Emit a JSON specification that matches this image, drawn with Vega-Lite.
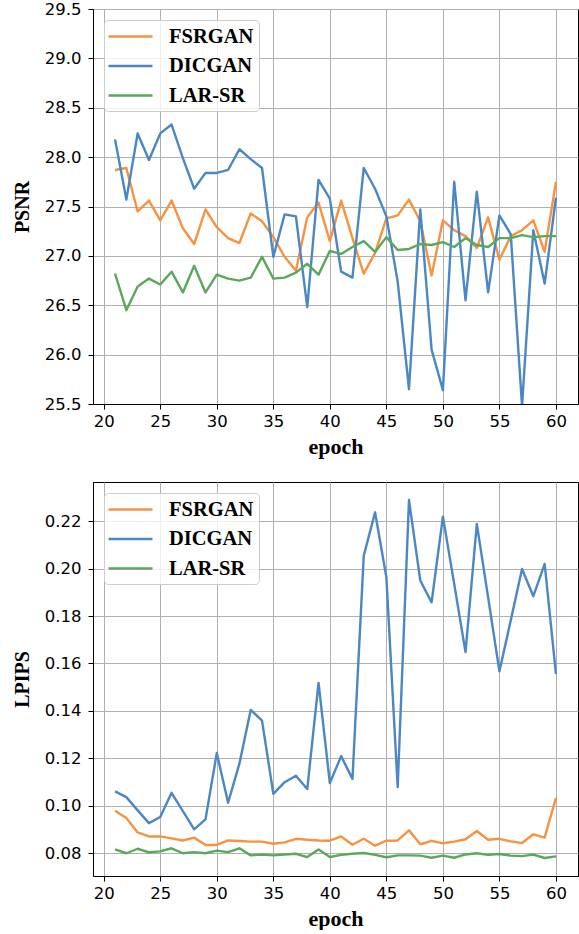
{
  "$schema": "https://vega.github.io/schema/vega-lite/v6.json",
  "padding": {"left": 11, "top": 0, "right": 2, "bottom": 0},
  "spacing": 78,
  "bounds": "flush",
  "background": "white",
  "config": {
    "view": {"stroke": "black", "strokeWidth": 1},
    "axis": {
      "domainColor": "black",
      "domainWidth": 1,
      "tickColor": "black",
      "tickSize": 5,
      "tickWidth": 1,
      "labelPadding": 7,
      "gridColor": "#b0b0b0",
      "gridWidth": 1,
      "labelFont": "DejaVu Sans",
      "labelFontSize": 16.5,
      "labelColor": "black",
      "titleFont": "Liberation Serif",
      "titleFontWeight": "bold",
      "titleColor": "black"
    },
    "axisX": {"titleFontSize": 22, "titlePadding": 7, "labelPadding": 4, "labelFlush": false},
    "axisY": {"titleFontSize": 20, "titlePadding": 12, "labelFlush": false},
    "legend": {
      "orient": "none",
      "legendX": 11,
      "legendY": 11,
      "title": null,
      "symbolType": "M-2.2,0H2.2",
      "symbolSize": 400,
      "symbolOffset": 10,
      "symbolStrokeWidth": 2.4,
      "labelFont": "Liberation Serif",
      "labelFontWeight": "bold",
      "labelFontSize": 20.5,
      "labelColor": "black",
      "labelOffset": 27,
      "rowPadding": 7.5,
      "padding": 5,
      "fillColor": "rgba(255,255,255,0.8)",
      "strokeColor": "#cccccc",
      "strokeWidth": 1,
      "cornerRadius": 4
    }
  },
  "datasets": {
    "psnr": [
      {"epoch":21,"method":"FSRGAN","value":27.87},{"epoch":22,"method":"FSRGAN","value":27.89},{"epoch":23,"method":"FSRGAN","value":27.45},{"epoch":24,"method":"FSRGAN","value":27.56},{"epoch":25,"method":"FSRGAN","value":27.36},{"epoch":26,"method":"FSRGAN","value":27.56},{"epoch":27,"method":"FSRGAN","value":27.28},{"epoch":28,"method":"FSRGAN","value":27.12},{"epoch":29,"method":"FSRGAN","value":27.47},{"epoch":30,"method":"FSRGAN","value":27.29},
      {"epoch":31,"method":"FSRGAN","value":27.18},{"epoch":32,"method":"FSRGAN","value":27.13},{"epoch":33,"method":"FSRGAN","value":27.43},{"epoch":34,"method":"FSRGAN","value":27.35},{"epoch":35,"method":"FSRGAN","value":27.19},{"epoch":36,"method":"FSRGAN","value":26.99},{"epoch":37,"method":"FSRGAN","value":26.85},{"epoch":38,"method":"FSRGAN","value":27.39},{"epoch":39,"method":"FSRGAN","value":27.54},{"epoch":40,"method":"FSRGAN","value":27.15},
      {"epoch":41,"method":"FSRGAN","value":27.56},{"epoch":42,"method":"FSRGAN","value":27.18},{"epoch":43,"method":"FSRGAN","value":26.82},{"epoch":44,"method":"FSRGAN","value":27.03},{"epoch":45,"method":"FSRGAN","value":27.38},{"epoch":46,"method":"FSRGAN","value":27.41},{"epoch":47,"method":"FSRGAN","value":27.57},{"epoch":48,"method":"FSRGAN","value":27.35},{"epoch":49,"method":"FSRGAN","value":26.80},{"epoch":50,"method":"FSRGAN","value":27.36},
      {"epoch":51,"method":"FSRGAN","value":27.26},{"epoch":52,"method":"FSRGAN","value":27.20},{"epoch":53,"method":"FSRGAN","value":27.08},{"epoch":54,"method":"FSRGAN","value":27.39},{"epoch":55,"method":"FSRGAN","value":26.96},{"epoch":56,"method":"FSRGAN","value":27.20},{"epoch":57,"method":"FSRGAN","value":27.26},{"epoch":58,"method":"FSRGAN","value":27.36},{"epoch":59,"method":"FSRGAN","value":27.04},{"epoch":60,"method":"FSRGAN","value":27.75},
      {"epoch":21,"method":"DICGAN","value":28.18},{"epoch":22,"method":"DICGAN","value":27.57},{"epoch":23,"method":"DICGAN","value":28.24},{"epoch":24,"method":"DICGAN","value":27.97},{"epoch":25,"method":"DICGAN","value":28.24},{"epoch":26,"method":"DICGAN","value":28.33},{"epoch":27,"method":"DICGAN","value":27.99},{"epoch":28,"method":"DICGAN","value":27.68},{"epoch":29,"method":"DICGAN","value":27.84},{"epoch":30,"method":"DICGAN","value":27.84},
      {"epoch":31,"method":"DICGAN","value":27.87},{"epoch":32,"method":"DICGAN","value":28.08},{"epoch":33,"method":"DICGAN","value":27.98},{"epoch":34,"method":"DICGAN","value":27.89},{"epoch":35,"method":"DICGAN","value":26.99},{"epoch":36,"method":"DICGAN","value":27.42},{"epoch":37,"method":"DICGAN","value":27.40},{"epoch":38,"method":"DICGAN","value":26.48},{"epoch":39,"method":"DICGAN","value":27.77},{"epoch":40,"method":"DICGAN","value":27.58},
      {"epoch":41,"method":"DICGAN","value":26.84},{"epoch":42,"method":"DICGAN","value":26.78},{"epoch":43,"method":"DICGAN","value":27.89},{"epoch":44,"method":"DICGAN","value":27.68},{"epoch":45,"method":"DICGAN","value":27.40},{"epoch":46,"method":"DICGAN","value":26.74},{"epoch":47,"method":"DICGAN","value":25.65},{"epoch":48,"method":"DICGAN","value":27.47},{"epoch":49,"method":"DICGAN","value":26.05},{"epoch":50,"method":"DICGAN","value":25.64},
      {"epoch":51,"method":"DICGAN","value":27.75},{"epoch":52,"method":"DICGAN","value":26.55},{"epoch":53,"method":"DICGAN","value":27.65},{"epoch":54,"method":"DICGAN","value":26.63},{"epoch":55,"method":"DICGAN","value":27.41},{"epoch":56,"method":"DICGAN","value":27.22},{"epoch":57,"method":"DICGAN","value":25.48},{"epoch":58,"method":"DICGAN","value":27.26},{"epoch":59,"method":"DICGAN","value":26.72},{"epoch":60,"method":"DICGAN","value":27.59},
      {"epoch":21,"method":"LAR-SR","value":26.82},{"epoch":22,"method":"LAR-SR","value":26.45},{"epoch":23,"method":"LAR-SR","value":26.69},{"epoch":24,"method":"LAR-SR","value":26.77},{"epoch":25,"method":"LAR-SR","value":26.71},{"epoch":26,"method":"LAR-SR","value":26.84},{"epoch":27,"method":"LAR-SR","value":26.63},{"epoch":28,"method":"LAR-SR","value":26.90},{"epoch":29,"method":"LAR-SR","value":26.63},{"epoch":30,"method":"LAR-SR","value":26.81},
      {"epoch":31,"method":"LAR-SR","value":26.77},{"epoch":32,"method":"LAR-SR","value":26.75},{"epoch":33,"method":"LAR-SR","value":26.78},{"epoch":34,"method":"LAR-SR","value":26.99},{"epoch":35,"method":"LAR-SR","value":26.77},{"epoch":36,"method":"LAR-SR","value":26.78},{"epoch":37,"method":"LAR-SR","value":26.83},{"epoch":38,"method":"LAR-SR","value":26.92},{"epoch":39,"method":"LAR-SR","value":26.81},{"epoch":40,"method":"LAR-SR","value":27.05},
      {"epoch":41,"method":"LAR-SR","value":27.02},{"epoch":42,"method":"LAR-SR","value":27.09},{"epoch":43,"method":"LAR-SR","value":27.15},{"epoch":44,"method":"LAR-SR","value":27.04},{"epoch":45,"method":"LAR-SR","value":27.19},{"epoch":46,"method":"LAR-SR","value":27.06},{"epoch":47,"method":"LAR-SR","value":27.07},{"epoch":48,"method":"LAR-SR","value":27.12},{"epoch":49,"method":"LAR-SR","value":27.11},{"epoch":50,"method":"LAR-SR","value":27.14},
      {"epoch":51,"method":"LAR-SR","value":27.09},{"epoch":52,"method":"LAR-SR","value":27.18},{"epoch":53,"method":"LAR-SR","value":27.11},{"epoch":54,"method":"LAR-SR","value":27.09},{"epoch":55,"method":"LAR-SR","value":27.18},{"epoch":56,"method":"LAR-SR","value":27.18},{"epoch":57,"method":"LAR-SR","value":27.21},{"epoch":58,"method":"LAR-SR","value":27.19},{"epoch":59,"method":"LAR-SR","value":27.20},{"epoch":60,"method":"LAR-SR","value":27.20}
    ],
    "lpips": [
      {"epoch":21,"method":"FSRGAN","value":0.0978},{"epoch":22,"method":"FSRGAN","value":0.0948},{"epoch":23,"method":"FSRGAN","value":0.0887},{"epoch":24,"method":"FSRGAN","value":0.0870},{"epoch":25,"method":"FSRGAN","value":0.0870},{"epoch":26,"method":"FSRGAN","value":0.0862},{"epoch":27,"method":"FSRGAN","value":0.0853},{"epoch":28,"method":"FSRGAN","value":0.0865},{"epoch":29,"method":"FSRGAN","value":0.0834},{"epoch":30,"method":"FSRGAN","value":0.0834},
      {"epoch":31,"method":"FSRGAN","value":0.0853},{"epoch":32,"method":"FSRGAN","value":0.0851},{"epoch":33,"method":"FSRGAN","value":0.0848},{"epoch":34,"method":"FSRGAN","value":0.0848},{"epoch":35,"method":"FSRGAN","value":0.0839},{"epoch":36,"method":"FSRGAN","value":0.0845},{"epoch":37,"method":"FSRGAN","value":0.0860},{"epoch":38,"method":"FSRGAN","value":0.0856},{"epoch":39,"method":"FSRGAN","value":0.0853},{"epoch":40,"method":"FSRGAN","value":0.0852},
      {"epoch":41,"method":"FSRGAN","value":0.0870},{"epoch":42,"method":"FSRGAN","value":0.0835},{"epoch":43,"method":"FSRGAN","value":0.0860},{"epoch":44,"method":"FSRGAN","value":0.0831},{"epoch":45,"method":"FSRGAN","value":0.0852},{"epoch":46,"method":"FSRGAN","value":0.0853},{"epoch":47,"method":"FSRGAN","value":0.0896},{"epoch":48,"method":"FSRGAN","value":0.0837},{"epoch":49,"method":"FSRGAN","value":0.0851},{"epoch":50,"method":"FSRGAN","value":0.0841},
      {"epoch":51,"method":"FSRGAN","value":0.0848},{"epoch":52,"method":"FSRGAN","value":0.0858},{"epoch":53,"method":"FSRGAN","value":0.0893},{"epoch":54,"method":"FSRGAN","value":0.0856},{"epoch":55,"method":"FSRGAN","value":0.0860},{"epoch":56,"method":"FSRGAN","value":0.0849},{"epoch":57,"method":"FSRGAN","value":0.0842},{"epoch":58,"method":"FSRGAN","value":0.0879},{"epoch":59,"method":"FSRGAN","value":0.0865},{"epoch":60,"method":"FSRGAN","value":0.1033},
      {"epoch":21,"method":"DICGAN","value":0.1060},{"epoch":22,"method":"DICGAN","value":0.1036},{"epoch":23,"method":"DICGAN","value":0.0980},{"epoch":24,"method":"DICGAN","value":0.0926},{"epoch":25,"method":"DICGAN","value":0.0952},{"epoch":26,"method":"DICGAN","value":0.1054},{"epoch":27,"method":"DICGAN","value":0.0977},{"epoch":28,"method":"DICGAN","value":0.0900},{"epoch":29,"method":"DICGAN","value":0.0942},{"epoch":30,"method":"DICGAN","value":0.1222},
      {"epoch":31,"method":"DICGAN","value":0.1012},{"epoch":32,"method":"DICGAN","value":0.1177},{"epoch":33,"method":"DICGAN","value":0.1404},{"epoch":34,"method":"DICGAN","value":0.1359},{"epoch":35,"method":"DICGAN","value":0.1050},{"epoch":36,"method":"DICGAN","value":0.1099},{"epoch":37,"method":"DICGAN","value":0.1126},{"epoch":38,"method":"DICGAN","value":0.1070},{"epoch":39,"method":"DICGAN","value":0.1518},{"epoch":40,"method":"DICGAN","value":0.1095},
      {"epoch":41,"method":"DICGAN","value":0.1209},{"epoch":42,"method":"DICGAN","value":0.1113},{"epoch":43,"method":"DICGAN","value":0.2055},{"epoch":44,"method":"DICGAN","value":0.2238},{"epoch":45,"method":"DICGAN","value":0.1964},{"epoch":46,"method":"DICGAN","value":0.1078},{"epoch":47,"method":"DICGAN","value":0.2290},{"epoch":48,"method":"DICGAN","value":0.1950},{"epoch":49,"method":"DICGAN","value":0.1858},{"epoch":50,"method":"DICGAN","value":0.2220},
      {"epoch":51,"method":"DICGAN","value":0.1936},{"epoch":52,"method":"DICGAN","value":0.1648},{"epoch":53,"method":"DICGAN","value":0.2189},{"epoch":54,"method":"DICGAN","value":0.1879},{"epoch":55,"method":"DICGAN","value":0.1567},{"epoch":56,"method":"DICGAN","value":0.1781},{"epoch":57,"method":"DICGAN","value":0.1999},{"epoch":58,"method":"DICGAN","value":0.1884},{"epoch":59,"method":"DICGAN","value":0.2020},{"epoch":60,"method":"DICGAN","value":0.1556},
      {"epoch":21,"method":"LAR-SR","value":0.0815},{"epoch":22,"method":"LAR-SR","value":0.0799},{"epoch":23,"method":"LAR-SR","value":0.0818},{"epoch":24,"method":"LAR-SR","value":0.0803},{"epoch":25,"method":"LAR-SR","value":0.0807},{"epoch":26,"method":"LAR-SR","value":0.0820},{"epoch":27,"method":"LAR-SR","value":0.0799},{"epoch":28,"method":"LAR-SR","value":0.0804},{"epoch":29,"method":"LAR-SR","value":0.0799},{"epoch":30,"method":"LAR-SR","value":0.0810},
      {"epoch":31,"method":"LAR-SR","value":0.0804},{"epoch":32,"method":"LAR-SR","value":0.0820},{"epoch":33,"method":"LAR-SR","value":0.0790},{"epoch":34,"method":"LAR-SR","value":0.0794},{"epoch":35,"method":"LAR-SR","value":0.0790},{"epoch":36,"method":"LAR-SR","value":0.0794},{"epoch":37,"method":"LAR-SR","value":0.0797},{"epoch":38,"method":"LAR-SR","value":0.0783},{"epoch":39,"method":"LAR-SR","value":0.0815},{"epoch":40,"method":"LAR-SR","value":0.0783},
      {"epoch":41,"method":"LAR-SR","value":0.0792},{"epoch":42,"method":"LAR-SR","value":0.0797},{"epoch":43,"method":"LAR-SR","value":0.0800},{"epoch":44,"method":"LAR-SR","value":0.0792},{"epoch":45,"method":"LAR-SR","value":0.0782},{"epoch":46,"method":"LAR-SR","value":0.0790},{"epoch":47,"method":"LAR-SR","value":0.0790},{"epoch":48,"method":"LAR-SR","value":0.0789},{"epoch":49,"method":"LAR-SR","value":0.0780},{"epoch":50,"method":"LAR-SR","value":0.0789},
      {"epoch":51,"method":"LAR-SR","value":0.0780},{"epoch":52,"method":"LAR-SR","value":0.0794},{"epoch":53,"method":"LAR-SR","value":0.0799},{"epoch":54,"method":"LAR-SR","value":0.0792},{"epoch":55,"method":"LAR-SR","value":0.0796},{"epoch":56,"method":"LAR-SR","value":0.0789},{"epoch":57,"method":"LAR-SR","value":0.0787},{"epoch":58,"method":"LAR-SR","value":0.0793},{"epoch":59,"method":"LAR-SR","value":0.0779},{"epoch":60,"method":"LAR-SR","value":0.0786}
    ]
  },
  "vconcat": [
    {
      "width": 485,
      "height": 395,
      "data": {"name": "psnr"},
      "mark": {"type": "line", "strokeWidth": 2.4, "clip": true, "strokeJoin": "round"},
      "encoding": {
        "x": {"field": "epoch", "type": "quantitative", "title": "epoch",
              "scale": {"domain": [19.05, 61.95], "nice": false, "zero": false},
              "axis": {"values": [20, 25, 30, 35, 40, 45, 50, 55, 60]}},
        "y": {"field": "value", "type": "quantitative", "title": "PSNR",
              "scale": {"domain": [25.5, 29.5], "nice": false, "zero": false},
              "axis": {"values": [25.5, 26.0, 26.5, 27.0, 27.5, 28.0, 28.5, 29.0, 29.5], "format": ".1f"}},
        "color": {"field": "method", "type": "nominal",
                  "scale": {"domain": ["FSRGAN", "DICGAN", "LAR-SR"], "range": ["#f8923f", "#4a87c4", "#5aa85a"]}},
        "order": {"field": "epoch", "type": "quantitative"}
      }
    },
    {
      "width": 485,
      "height": 394,
      "data": {"name": "lpips"},
      "mark": {"type": "line", "strokeWidth": 2.4, "clip": true, "strokeJoin": "round"},
      "encoding": {
        "x": {"field": "epoch", "type": "quantitative", "title": "epoch",
              "scale": {"domain": [19.05, 61.95], "nice": false, "zero": false},
              "axis": {"values": [20, 25, 30, 35, 40, 45, 50, 55, 60]}},
        "y": {"field": "value", "type": "quantitative", "title": "LPIPS",
              "scale": {"domain": [0.0703, 0.2366], "nice": false, "zero": false},
              "axis": {"values": [0.08, 0.10, 0.12, 0.14, 0.16, 0.18, 0.20, 0.22], "format": ".2f"}},
        "color": {"field": "method", "type": "nominal",
                  "scale": {"domain": ["FSRGAN", "DICGAN", "LAR-SR"], "range": ["#f8923f", "#4a87c4", "#5aa85a"]}},
        "order": {"field": "epoch", "type": "quantitative"}
      }
    }
  ],
  "resolve": {"scale": {"color": "independent"}, "legend": {"color": "independent"}}
}
